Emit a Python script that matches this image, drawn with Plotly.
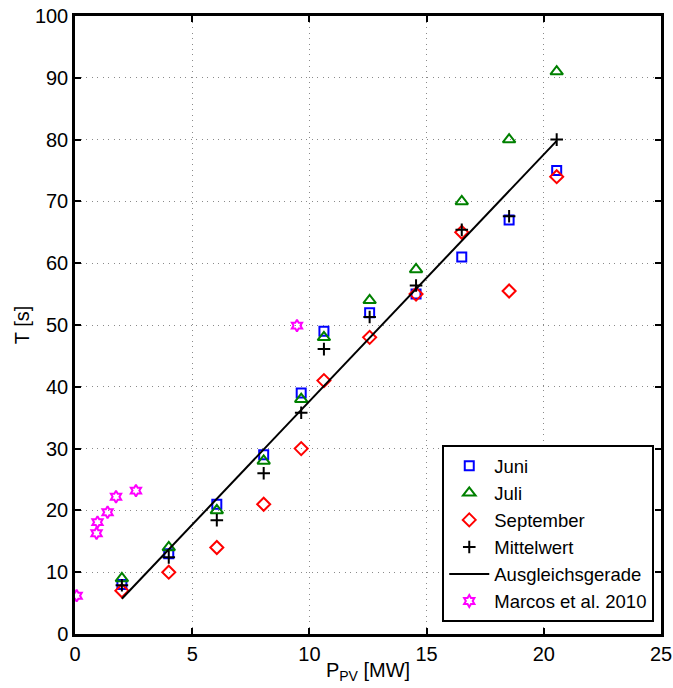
import plotly.graph_objects as go

x_vals = [2.0, 4.0, 6.05, 8.05, 9.65, 10.62, 12.57, 14.55, 16.5, 18.52, 20.55]
juni = [8, 13, 21, 29, 39, 49, 52, 55, 61, 67, 75]
juli = [9, 14, 20, 28, 38, 48, 54, 59, 70, 80, 91]
september = [7, 10, 14, 21, 30, 41, 48, 55, 65, 55.5, 74]
mittelwert = [7.9, 12.4, 18.4, 26.0, 35.8, 46.1, 51.3, 56.4, 65.4, 67.6, 80.0]
fit_x = [2.0, 20.55]
fit_y = [5.7, 79.8]
marcos_x = [0.07, 0.92, 0.96, 1.39, 1.75, 2.6, 9.47]
marcos_y = [6.2, 16.3, 18.1, 19.7, 22.2, 23.2, 49.9]

FONT = "Liberation Sans, Arial, sans-serif"

fig = go.Figure()
fig.add_trace(go.Scatter(x=x_vals, y=juni, mode="markers", name="Juni",
    marker=dict(symbol="square-open", size=9, color="#0000FF", line=dict(width=2))))
fig.add_trace(go.Scatter(x=x_vals, y=juli, mode="markers", name="Juli",
    marker=dict(symbol="triangle-up-open", size=11, color="#008000", line=dict(width=2))))
fig.add_trace(go.Scatter(x=x_vals, y=september, mode="markers", name="September",
    marker=dict(symbol="diamond-open", size=10, color="#FF0000", line=dict(width=2))))
fig.add_trace(go.Scatter(x=x_vals, y=mittelwert, mode="markers", name="Mittelwert",
    marker=dict(symbol="cross-thin-open", size=9, color="#000000", line=dict(width=2, color="#000000"))))
fig.add_trace(go.Scatter(x=fit_x, y=fit_y, mode="lines", name="Ausgleichsgerade",
    line=dict(color="#000000", width=2)))
fig.add_trace(go.Scatter(x=marcos_x, y=marcos_y, mode="markers", name="Marcos et al. 2010",
    marker=dict(symbol="hexagram-open", size=9, color="#FF00FF", line=dict(width=2))))

axis_common = dict(
    showline=True, linecolor="black", linewidth=2.5, mirror="ticks",
    ticks="inside", ticklen=6, tickwidth=1.5, tickcolor="black",
    showgrid=True, gridcolor="#8a8a8a", gridwidth=1, griddash="1px,4.5px",
    zeroline=False, automargin=False,
    tickfont=dict(family=FONT, size=20, color="black"),
)

fig.update_xaxes(range=[0, 25], tickvals=[0, 5, 10, 15, 20, 25],
    title=dict(text="P<sub>PV</sub> [MW]", font=dict(family=FONT, size=20, color="black"), standoff=0),
    **axis_common)
fig.update_yaxes(range=[0, 100], tickvals=list(range(0, 101, 10)),
    title=dict(text="T [s]", font=dict(family=FONT, size=20, color="black"), standoff=0),
    **axis_common)

fig.update_layout(
    width=673, height=688,
    margin=dict(l=75, r=12, t=16, b=54),
    paper_bgcolor="white", plot_bgcolor="white",
    font=dict(family=FONT, size=20, color="black"),
    showlegend=True,
    legend=dict(x=0.9885, y=0.019, xanchor="right", yanchor="bottom",
        bgcolor="white", bordercolor="black", borderwidth=2,
        font=dict(family=FONT, size=18.5, color="black"),
        itemwidth=40, tracegroupgap=0),
)

fig.write_html("out.html")
